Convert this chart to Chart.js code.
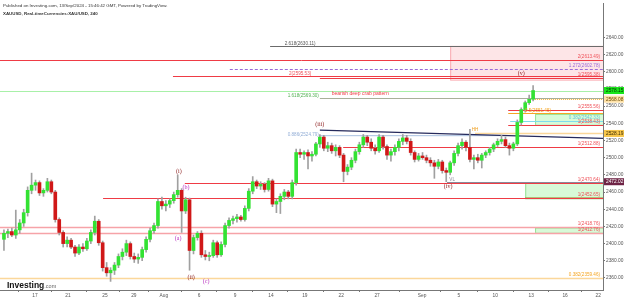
<!DOCTYPE html>
<html>
<head>
<meta charset="utf-8">
<script src="https://cdn.jsdelivr.net/npm/chart.js@4.4.1/dist/chart.umd.min.js"></script>
<style>
  html, body { margin: 0; padding: 0; background: #fff; }
</style>
</head>
<body>
<canvas id="myChart" width="625" height="302"></canvas>
<script>
// XAU/USD 4h candles (one bar every ~8h)
var opens  = [2405,2412,2414,2410,2416,2424,2436,2462,2468,2471,2459,2462,2472,2460,2428,2413,2400,2404,2396,2389,
              2396,2394,2403,2413,2426,2401,2372,2366,2369,2375,2385,2390,2400,2385,2382,2384,2393,2405,2415,2421,
              2449,2444,2446,2450,2457,2462,2438,2451,2392,2407,2412,2387,2385,2386,2401,2387,2399,2421,2427,2429,
              2431,2428,2441,2461,2472,2467,2469,2463,2473,2446,2449,2455,2460,2455,2471,2506,2504,2506,2502,2504,
              2516,2524,2511,2514,2508,2512,2503,2484,2489,2497,2507,2515,2524,2518,2511,2508,2524,2513,2503,2507,
              2512,2519,2523,2519,2506,2498,2502,2500,2497,2494,2490,2495,2485,2483,2494,2505,2514,2518,2512,2498,
              2500,2497,2503,2506,2510,2515,2519,2521,2514,2511,2516,2541,2556,2564,2568];
var highs  = [2416,2417,2418,2439,2428,2440,2466,2482,2474,2473,2464,2476,2474,2462,2430,2415,2408,2406,2398,2399,
              2400,2406,2416,2432,2428,2403,2378,2372,2378,2388,2394,2404,2402,2389,2388,2396,2408,2418,2424,2452,
              2454,2450,2452,2460,2480,2464,2454,2453,2410,2414,2415,2392,2390,2404,2403,2402,2424,2430,2432,2434,
              2433,2444,2464,2478,2474,2472,2471,2476,2475,2452,2458,2463,2462,2474,2510,2510,2508,2509,2507,2518,
              2527,2526,2518,2517,2515,2514,2505,2492,2500,2510,2518,2527,2526,2522,2515,2527,2526,2515,2510,2515,
              2522,2527,2526,2522,2508,2505,2506,2503,2500,2497,2498,2497,2488,2496,2508,2517,2522,2520,2533,2503,
              2504,2505,2508,2512,2517,2522,2526,2524,2517,2518,2544,2558,2566,2573,2584];
var lows   = [2392,2407,2408,2406,2412,2420,2432,2458,2462,2456,2455,2460,2458,2425,2410,2396,2396,2394,2385,2387,
              2391,2392,2400,2410,2398,2368,2362,2356,2364,2372,2381,2386,2382,2378,2377,2380,2390,2402,2412,2418,
              2440,2438,2442,2447,2454,2413,2435,2369,2388,2404,2384,2381,2380,2384,2384,2385,2396,2418,2423,2425,
              2426,2426,2438,2458,2464,2463,2460,2461,2443,2436,2435,2451,2452,2452,2468,2500,2498,2487,2496,2502,
              2512,2508,2507,2505,2502,2500,2472,2480,2486,2494,2504,2512,2514,2508,2504,2506,2510,2498,2496,2503,
              2508,2515,2516,2503,2495,2496,2498,2494,2490,2476,2487,2482,2472,2480,2491,2502,2510,2508,2495,2487,
              2494,2488,2500,2503,2507,2513,2516,2512,2503,2508,2514,2538,2553,2562,2566];
var closes = [2412,2414,2410,2416,2424,2436,2462,2468,2471,2459,2462,2472,2460,2428,2413,2400,2404,2396,2389,2396,
              2394,2403,2413,2426,2401,2372,2366,2369,2375,2385,2390,2400,2385,2382,2384,2393,2405,2415,2421,2449,
              2444,2446,2450,2457,2462,2438,2451,2392,2407,2412,2387,2385,2386,2401,2387,2399,2421,2427,2429,2431,
              2428,2441,2461,2472,2467,2469,2463,2473,2446,2449,2455,2460,2455,2471,2506,2504,2506,2502,2504,2516,
              2524,2511,2514,2508,2512,2503,2484,2489,2497,2507,2515,2524,2518,2511,2508,2524,2513,2503,2507,2512,
              2519,2523,2519,2506,2498,2502,2500,2497,2494,2490,2495,2485,2483,2494,2505,2514,2518,2512,2498,2500,
              2497,2503,2506,2510,2515,2519,2521,2514,2511,2516,2541,2556,2564,2568,2578.15];

// date ticks (position in bars) and their labels
var tickPos    = [7.85, 16.2, 25.6, 32.9, 40.5, 49.4, 58.5, 67.6, 76.2, 85.4, 94.5, 105.9, 115.2, 124.4, 133.5, 142.1, 150.5];
var tickLabels = ['17', '21', '25', '29', 'Aug', '6', '9', '14', '19', '22', '27', 'Sep', '5', '10', '13', '16', '22'];

// drawn levels: price, first bar, kind, text, where the text goes
var levels = [
  [2630.11, 67.4, 'gray', '2.618(2630.11)', 75],
  [2613.49, -1, 'red', '2(2613.49)', 'r'],
  [2602.78, 57.2, 'purple', '1.272(2602.78)', 'r'],
  [2595.53, 42.8, 'red', '2(2595.53)', 75],
  [2592.8, 80, 'red', '1(2595.38)', 'r'],
  [2578.15, -1, 'last', '', ''],
  [2569.30, 80, 'olive', '1.618(2569.30)', 'l'],
  [2568.08, 134.5, 'orangeDot', '', ''],
  [2555.56, 127.7, 'red', '1(2555.56)', 'r'],
  [2551.45, 127.7, 'orange', '0.5(2551.45)', 'r2'],
  [2542.33, 128.2, 'cyan', '0.382(2542.33)', 'r'],
  [2538.43, 127.7, 'red', '1(2538.43)', 'r'],
  [2528.19, 119.3, 'orangeSoft', '', ''],
  [2512.88, 85.9, 'red', '1(2512.88)', 'r'],
  [2472.02, 112.2, 'vl', '', ''],
  [2470.64, 45.8, 'red', '1(2470.64)', 'r'],
  [2452.65, 25.1, 'red', '1(2452.65)', 'r'],
  [2418.76, -1, 'pink', '1(2418.76)', 'r'],
  [2412.76, -1, 'pink', '1(2412.76)', 'r'],
  [2359.46, -1, 'orangeSoft', '0.382(2359.46)', 'r']
];
// shaded zones: first bar, top price, bottom price, kind
var zones = [
  [113, 2630.11, 2590.7, 'pinkZone'],
  [134.5, 2551.0, 2538.4, 'greenZone'],
  [132, 2470.64, 2452.65, 'greenZone'],
  [134.5, 2418.76, 2412.76, 'greenZone']
];
// wave counts: bar, price, text, kind
var waves = [
  [131, 2597.5, '(v)', 'wave'],
  [80, 2539, '(iii)', 'wave'],
  [112.5, 2467, '(iv)', 'wave'],
  [44.3, 2484, '(i)', 'wave'],
  [46.1, 2465.6, '(b)', 'sub'],
  [44.1, 2406, '(a)', 'sub'],
  [47.4, 2361, '(ii)', 'wave'],
  [51.2, 2356.5, '(c)', 'sub'],
  [119.3, 2533, 'HH', 'hh'],
  [113.5, 2474.7, 'VL', 'vl']
];
// axis price tags
var tags = [[2578.15, 'last'], [2568.08, 'orange'], [2528.19, 'yellow'], [2472.02, 'maroon']];

var lineStyle = {
  red: ['#ef3b45', 1, []], pink: ['#f6a3a8', 1.5, []], gray: ['#6b6b6b', 1, []],
  purple: ['#9b6bd8', 1, [3, 2]], last: ['#a8f0a8', 1, []], olive: ['#a9b09a', 1, []],
  orangeDot: ['#f5b942', 1, [1, 1]], orange: ['#f5a623', 1, []], cyan: ['#7fdcec', 1, []],
  orangeSoft: ['#fbd79a', 1.5, []], vl: ['#8a8a9a', 1, []]
};
var textColor = {
  red: '#ef5058', pink: '#ef5058', gray: '#555', purple: '#9b6bd8', olive: '#55b055',
  orange: '#f5a623', cyan: '#6cc6d8', orangeSoft: '#f5a623'
};

function drawAt(chart, fn) {
  var ctx = chart.ctx, a = chart.chartArea;
  ctx.save();
  ctx.beginPath();
  ctx.rect(a.left, a.top, a.right - a.left, a.bottom - a.top);
  ctx.clip();
  fn(ctx, a, chart.scales.x, chart.scales.y);
  ctx.restore();
}

var levelPlugin = {
  id: 'levels',
  beforeDatasetsDraw: function (chart) {
    drawAt(chart, function (ctx, a, x, y) {
      zones.forEach(function (z) {
        var x0 = x.getPixelForValue(z[0]), y0 = y.getPixelForValue(z[1]), y1 = y.getPixelForValue(z[2]);
        if (z[3] === 'pinkZone') {
          ctx.fillStyle = 'rgba(242,54,69,0.13)';
          ctx.strokeStyle = 'rgba(242,54,69,0.35)';
        } else {
          ctx.fillStyle = 'rgba(76,230,76,0.22)';
          ctx.strokeStyle = 'rgba(76,200,76,0.5)';
        }
        ctx.fillRect(x0, y0, a.right - x0, y1 - y0);
        ctx.lineWidth = 1;
        ctx.strokeRect(x0 + 0.5, y0 + 0.5, a.right - x0, y1 - y0);
      });
      // olive base under the middle green zone
      var ob = y.getPixelForValue(2452.65);
      ctx.strokeStyle = '#8a8a20';
      ctx.lineWidth = 1.5;
      ctx.beginPath(); ctx.moveTo(x.getPixelForValue(132), ob); ctx.lineTo(a.right, ob); ctx.stroke();

      levels.forEach(function (l) {
        var st = lineStyle[l[2]];
        var py = Math.round(y.getPixelForValue(l[0])) + 0.5;
        ctx.strokeStyle = st[0];
        ctx.lineWidth = st[1];
        ctx.setLineDash(st[2]);
        ctx.beginPath();
        ctx.moveTo(Math.max(a.left, x.getPixelForValue(l[1])), py);
        ctx.lineTo(a.right, py);
        ctx.stroke();
      });
      ctx.setLineDash([]);
      // 0.886 retracement, short blue line
      var by = y.getPixelForValue(2525.6);
      ctx.strokeStyle = '#a9c0e0';
      ctx.lineWidth = 1;
      ctx.beginPath(); ctx.moveTo(x.getPixelForValue(80), by); ctx.lineTo(x.getPixelForValue(127.4), by); ctx.stroke();
      // falling trend line from (iii)
      ctx.strokeStyle = '#262a5c';
      ctx.lineWidth = 1.2;
      ctx.beginPath();
      ctx.moveTo(x.getPixelForValue(80), y.getPixelForValue(2532.1));
      ctx.lineTo(x.getPixelForValue(151.7), y.getPixelForValue(2522.4));
      ctx.stroke();
    });
  },
  afterDatasetsDraw: function (chart) {
    drawAt(chart, function (ctx, a, x, y) {
      ctx.font = '4.6px "Liberation Sans", Arial, sans-serif';
      ctx.textBaseline = 'bottom';
      levels.forEach(function (l) {
        if (!l[3]) return;
        var py = y.getPixelForValue(l[0]) - 1;
        ctx.fillStyle = textColor[l[2]];
        if (l[4] === 'r') {
          ctx.textAlign = 'right'; ctx.fillText(l[3], a.right - 3, py);
        } else if (l[4] === 'r2') {
          ctx.textAlign = 'right'; ctx.fillText(l[3], a.right - 52, py + 1);
        } else if (l[4] === 'l') {
          ctx.textAlign = 'right'; ctx.fillText(l[3], x.getPixelForValue(80) - 1, py + 1);
        } else {
          ctx.textAlign = 'center'; ctx.fillText(l[3], x.getPixelForValue(l[4]), py + 1);
        }
      });
      ctx.fillStyle = '#93aed6';
      ctx.textAlign = 'right';
      ctx.fillText('0.886(2524.79)', x.getPixelForValue(80) - 1, y.getPixelForValue(2525.6) + 1);
      ctx.fillStyle = '#ef3b45';
      ctx.textAlign = 'left';
      ctx.font = '5px "Liberation Sans", Arial, sans-serif';
      ctx.fillText('bearish deep crab pattern', x.getPixelForValue(83), y.getPixelForValue(2571.5));

      waves.forEach(function (w) {
        var px = x.getPixelForValue(w[0]), py = y.getPixelForValue(w[1]);
        ctx.textAlign = 'center';
        ctx.textBaseline = 'middle';
        if (w[3] === 'wave') { ctx.font = '6px "Liberation Serif", serif'; ctx.fillStyle = '#8b1c1c'; }
        else if (w[3] === 'sub') { ctx.font = '6px "Liberation Serif", serif'; ctx.fillStyle = '#b72fbf'; }
        else if (w[3] === 'hh') { ctx.font = '4.6px "Liberation Sans", sans-serif'; ctx.fillStyle = '#f0a020'; }
        else { ctx.font = '4.6px "Liberation Sans", sans-serif'; ctx.fillStyle = '#8a8a9a'; }
        ctx.fillText(w[2], px, py);
      });
    });
  },
  afterDraw: function (chart) {
    var ctx = chart.ctx, a = chart.chartArea, y = chart.scales.y;
    ctx.save();
    var tagStyle = {
      last: ['#19e619', '#003300'], orange: ['#ffe2a8', '#6a4a00'],
      yellow: ['#f7c64a', '#3a2a00'], maroon: ['#6e2345', '#ffffff']
    };
    ctx.font = '4.8px "Liberation Sans", Arial, sans-serif';
    ctx.textAlign = 'left';
    ctx.textBaseline = 'middle';
    tags.forEach(function (t) {
      var py = y.getPixelForValue(t[0]);
      ctx.fillStyle = tagStyle[t[1]][0];
      ctx.fillRect(a.right + 1, py - 3.5, 20, 7);
      ctx.fillStyle = tagStyle[t[1]][1];
      ctx.fillText(t[0].toFixed(2), a.right + 3, py + 0.3);
    });
    // header
    ctx.fillStyle = '#333';
    ctx.textBaseline = 'alphabetic';
    ctx.font = '4.4px "Liberation Sans", Arial, sans-serif';
    ctx.fillText('Published on Investing.com, 13/Sep/2024 - 15:46:42 GMT, Powered by TradingView.', 3, 6.5);
    ctx.font = 'bold 4.4px "Liberation Sans", Arial, sans-serif';
    ctx.fillText('XAUUSD, Real-timeCurrencies:XAU/USD, 240', 3, 14.5);
    // logo
    ctx.fillStyle = '#111';
    ctx.font = 'bold 8.5px "Liberation Sans", Arial, sans-serif';
    ctx.fillText('Investing', 7, 288);
    var w = ctx.measureText('Investing').width;
    ctx.fillStyle = '#666';
    ctx.font = '5.5px "Liberation Sans", Arial, sans-serif';
    ctx.fillText('.com', 7 + w, 288);
    ctx.restore();
  }
};

var upColor = '#33e233', downColor = '#d01818';

var ctx = document.getElementById('myChart');
var myChart = new Chart(ctx, {
  type: 'bar',
  data: {
    datasets: [
      {
        label: 'wick',
        data: highs.map(function (h, i) { return { x: i, y: [lows[i], h] }; }),
        backgroundColor: '#a0a0a0',
        barThickness: 1,
        grouped: false,
        order: 2
      },
      {
        label: 'body',
        data: opens.map(function (o, i) { return { x: i, y: [o, closes[i]] }; }),
        backgroundColor: opens.map(function (o, i) { return closes[i] >= o ? upColor : downColor; }),
        barThickness: 3,
        minBarLength: 1,
        grouped: false,
        order: 1
      }
    ]
  },
  options: {
    responsive: false,
    animation: false,
    layout: { padding: 0 },
    plugins: { legend: { display: false }, tooltip: { enabled: false } },
    scales: {
      x: {
        type: 'linear',
        min: -1,
        max: 151.7,
        offset: false,
        grid: { drawOnChartArea: false, drawTicks: true, tickLength: 2, color: '#777' },
        border: { display: true, color: '#777' },
        afterBuildTicks: function (scale) {
          scale.ticks = tickPos.map(function (v) { return { value: v }; });
        },
        afterFit: function (scale) { scale.height = 12; },
        ticks: {
          autoSkip: false,
          maxRotation: 0,
          padding: 1,
          color: '#555',
          font: { size: 4.8, family: '"Liberation Sans", Arial, sans-serif' },
          callback: function (v, i) { return tickLabels[i]; }
        }
      },
      y: {
        position: 'right',
        min: 2346,
        max: 2679,
        grid: { drawOnChartArea: false, drawTicks: true, tickLength: 2, color: '#777' },
        border: { display: true, color: '#777' },
        afterBuildTicks: function (scale) {
          var t = [];
          for (var v = 2360; v <= 2640; v += 20) t.push({ value: v });
          scale.ticks = t;
        },
        afterFit: function (scale) { scale.width = 22; },
        ticks: {
          padding: 1,
          color: '#555',
          font: { size: 4.8, family: '"Liberation Sans", Arial, sans-serif' },
          callback: function (v) { return v.toFixed(2); }
        }
      }
    }
  },
  plugins: [levelPlugin]
});
</script>
</body>
</html>
